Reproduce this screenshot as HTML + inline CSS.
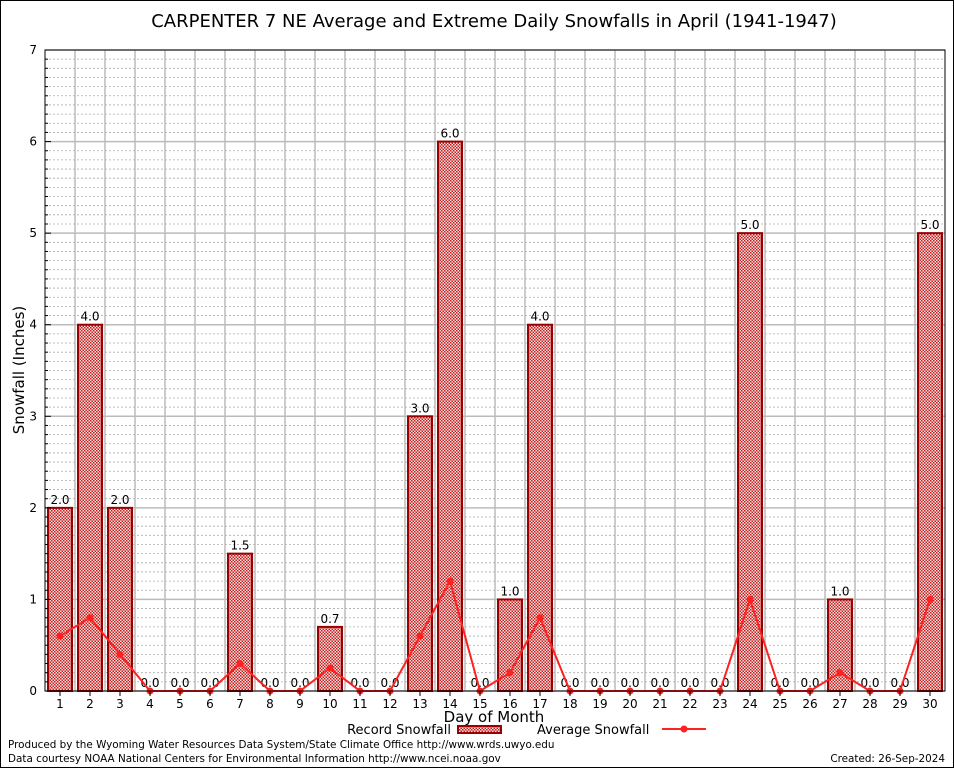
<!DOCTYPE html>
<html><head><meta charset="utf-8"><style>
body{margin:0;background:#fff;font-family:"DejaVu Sans","Liberation Sans",sans-serif;}
svg text{font-family:"DejaVu Sans","Liberation Sans",sans-serif;}
</style></head><body>
<svg id="chart" width="954" height="768" xmlns="http://www.w3.org/2000/svg">
<defs>
<pattern id="hatch" width="3" height="3" patternUnits="userSpaceOnUse">
<rect width="3" height="3" fill="#f8e0e0"/>
<rect width="1.5" height="1.5" fill="#c02020"/>
<rect x="1.5" y="1.5" width="1.5" height="1.5" fill="#c02020"/>
</pattern>
</defs>
<rect x="0.5" y="0.5" width="953" height="767" fill="#fff" stroke="#000"/>
<text x="494" y="27" font-size="18" text-anchor="middle">CARPENTER 7 NE Average and Extreme Daily Snowfalls in April (1941-1947)</text>
<g id="grid"></g>
<g id="bars"></g>
<g id="line"></g>
<g id="axes"></g>
<text x="24" y="370" font-size="15" text-anchor="middle" transform="rotate(-90 24 370)">Snowfall (Inches)</text>
<text x="494" y="722" font-size="15" text-anchor="middle">Day of Month</text>
<g>
<text x="451" y="734" font-size="13" text-anchor="end">Record Snowfall</text>
<rect x="458" y="726" width="43" height="7" fill="url(#hatch)" stroke="#990000" stroke-width="2"/>
<text x="537" y="734" font-size="13">Average Snowfall</text>
<line x1="662" y1="729" x2="706" y2="729" stroke="#ff2020" stroke-width="2"/>
<circle cx="684" cy="729" r="3.5" fill="#ff2020"/>
</g>
<text x="8" y="748" font-size="10.4">Produced by the Wyoming Water Resources Data System/State Climate Office http://www.wrds.uwyo.edu</text>
<text x="8" y="762" font-size="10.4">Data courtesy NOAA National Centers for Environmental Information http://www.ncei.noaa.gov</text>
<text x="945" y="762" font-size="10.4" text-anchor="end">Created:  26-Sep-2024</text>
</svg>
<script>
const days=[1,2,3,4,5,6,7,8,9,10,11,12,13,14,15,16,17,18,19,20,21,22,23,24,25,26,27,28,29,30];
const recordSnow=[2.0,4.0,2.0,0,0,0,1.5,0,0,0.7,0,0,3.0,6.0,0,1.0,4.0,0,0,0,0,0,0,5.0,0,0,1.0,0,0,5.0];
const avgSnow=[0.6,0.8,0.4,0,0,0,0.3,0,0,0.25,0,0,0.6,1.2,0,0.2,0.8,0,0,0,0,0,0,1.0,0,0,0.2,0,0,1.0];
const yTicks=[0,1,2,3,4,5,6,7];
const NS="http://www.w3.org/2000/svg";
const L=45,R=945,T=50,B=691,yMax=7;
const x=d=>L+(d-0.5)*(R-L)/days.length;
const y=v=>B-v*(B-T)/yMax;
function mk(tag,attrs,parent){const e=document.createElementNS(NS,tag);for(const k in attrs)e.setAttribute(k,attrs[k]);parent.appendChild(e);return e;}
const grid=document.getElementById('grid'),bars=document.getElementById('bars'),line=document.getElementById('line'),axes=document.getElementById('axes');
mk('rect',{x:L,y:T,width:R-L,height:B-T,fill:'#fff'},grid);
for(let i=1;i<yMax*10;i++){if(i%10===0)continue;const g=mk('line',{x1:L,x2:R,y1:y(i/10),y2:y(i/10),stroke:'#aaa','stroke-width':0.8,'stroke-dasharray':'2,2'},grid);

}
yTicks.forEach(t=>{const g=mk('line',{x1:L,x2:R,y1:y(t),y2:y(t),stroke:'#bbb','stroke-width':1.5},grid);


const tx=mk('text',{x:L-8,y:y(t)+4,'font-size':12,'text-anchor':'end','font-family':'Liberation Serif'},axes);tx.textContent=t;

});
for(let i=1;i<days.length;i++){const xv=L+i*(R-L)/days.length;const g=mk('line',{x1:xv,x2:xv,y1:T,y2:B,stroke:'#bbb','stroke-width':1.5},grid);

}
const bw=24;
days.forEach((d,i)=>{const v=recordSnow[i];
if(v>0){const r=mk('rect',{x:x(d)-bw/2,y:y(v),width:bw,height:B-y(v),fill:'url(#hatch)',stroke:'#990000','stroke-width':2},bars);

}
const t=mk('text',{x:x(d),y:y(v)-4,'font-size':12,'text-anchor':'middle'},bars);t.textContent=v.toFixed(1);


const tl=mk('text',{x:x(d),y:B+17,'font-size':12,'text-anchor':'middle','font-family':'Liberation Serif'},axes);tl.textContent=d;


const tk=mk('line',{x1:x(d),x2:x(d),y1:B,y2:B+5,stroke:'#000'},axes);

});
const pl=mk('polyline',{points:days.map((d,i)=>x(d)+','+y(avgSnow[i])).join(' '),fill:'none',stroke:'#ff2020','stroke-width':2},line);


days.forEach((d,i)=>{const c=mk('circle',{cx:x(d),cy:y(avgSnow[i]),r:3.5,fill:'#ff2020'},line);

});
const fr=mk('rect',{x:L,y:T,width:R-L,height:B-T,fill:'none',stroke:'#000','stroke-width':1},axes);


for(let i=0;i<=yMax*10;i++){const tk=mk('line',{x1:L,x2:L+(i%10===0?6:3),y1:y(i/10),y2:y(i/10),stroke:'#000'},axes);

}
</script>
</body></html>
